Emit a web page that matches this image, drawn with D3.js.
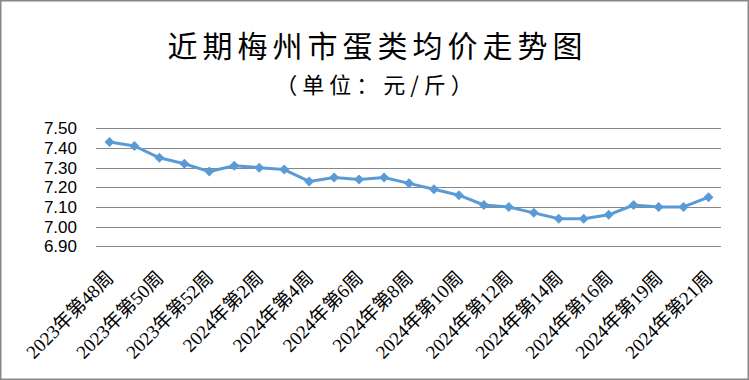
<!DOCTYPE html>
<html>
<head>
<meta charset="utf-8">
<script src="https://cdn.jsdelivr.net/npm/d3@7"></script>
<style>
  body { margin: 0; background: #fff; }
</style>
</head>
<body>
<script>
let svgWidth = 749;
let svgHeight = 380;

// weeks shown on the chart (week 18 of 2024 has no data)
let weeks = [
    "2023年第48周", "2023年第49周", "2023年第50周", "2023年第51周", "2023年第52周",
    "2024年第1周", "2024年第2周", "2024年第3周", "2024年第4周", "2024年第5周",
    "2024年第6周", "2024年第7周", "2024年第8周", "2024年第9周", "2024年第10周",
    "2024年第11周", "2024年第12周", "2024年第13周", "2024年第14周", "2024年第15周",
    "2024年第16周", "2024年第17周", "2024年第19周", "2024年第20周", "2024年第21周"
];
let prices = [
    7.43, 7.41, 7.35, 7.32, 7.28,
    7.31, 7.30, 7.29, 7.23, 7.25,
    7.24, 7.25, 7.22, 7.19, 7.16,
    7.11, 7.10, 7.07, 7.04, 7.04,
    7.06, 7.11, 7.10, 7.10, 7.15
];
let yTicks = [6.90, 7.00, 7.10, 7.20, 7.30, 7.40, 7.50];

let title = "近期梅州市蛋类均价走势图";
let subtitle = "（单位：元/斤）";

let svg = d3.select("body")
    .append("svg")
    .attr("width", svgWidth)
    .attr("height", svgHeight);

svg.append("rect")
    .attr("x", 0.75).attr("y", 0.75)
    .attr("width", svgWidth - 1.5).attr("height", svgHeight - 1.5)
    .attr("fill", "#fff")
    .attr("stroke", "#888")
    .attr("stroke-width", 1.5);

let plot = { left: 97, right: 721, top: 128.3, bottom: 246.3 };

let xScale = d3.scalePoint()
    .domain(weeks)
    .range([plot.left, plot.right])
    .padding(0.5);

let yScale = d3.scaleLinear()
    .domain([6.9, 7.5])
    .range([plot.bottom, plot.top]);

// titles
svg.append("text")
    .attr("x", svgWidth / 2 + 3)
    .attr("y", 57)
    .attr("text-anchor", "middle")
    .style("font-family", "'Noto Sans CJK SC'")
    .style("font-size", "30px")
    .style("letter-spacing", "5px")
    .attr("fill", "#000")
    .text(title);

svg.append("text")
    .attr("x", svgWidth / 2 + 2)
    .attr("y", 93)
    .attr("text-anchor", "middle")
    .style("font-family", "'Noto Sans CJK SC'")
    .style("font-size", "22px")
    .style("letter-spacing", "5px")
    .attr("fill", "#000")
    .text(subtitle);

// gridlines
svg.append("g")
    .selectAll("line")
    .data(yTicks)
    .join("line")
    .attr("x1", plot.left - 1)
    .attr("x2", plot.right)
    .attr("y1", d => Math.round(yScale(d)) + 0.5)
    .attr("y2", d => Math.round(yScale(d)) + 0.5)
    .attr("stroke", "#878787")
    .attr("stroke-width", 1);

// Y Axis
let leftAxis = d3.axisLeft(yScale)
    .tickValues(yTicks)
    .tickFormat(d3.format(".2f"))
    .tickSize(0)
    .tickPadding(0);

let yAxis = svg.append("g")
    .attr("transform", "translate(77, 0)")
    .call(leftAxis);
yAxis.select(".domain").remove();
yAxis.selectAll("text")
    .style("font-family", "'Liberation Sans', Arial, sans-serif")
    .style("font-size", "17px")
    .attr("fill", "#000");

// X Axis
let bottomAxis = d3.axisBottom(xScale)
    .tickValues(weeks.filter((d, i) => i % 2 === 0))
    .tickSize(0);

let xAxis = svg.append("g")
    .attr("transform", `translate(0, ${plot.bottom})`)
    .call(bottomAxis);
xAxis.select(".domain").remove();
xAxis.selectAll("text")
    .attr("x", 0)
    .attr("y", 0)
    .attr("dy", "0.35em")
    .attr("transform", "translate(0, 28) rotate(-45)")
    .attr("text-anchor", "end")
    .style("font-family", "'Liberation Serif', 'Noto Sans CJK SC', serif")
    .style("font-size", "19px")
    .attr("fill", "#000");

// price line
let drawLine = d3.line()
    .x((d, i) => xScale(weeks[i]))
    .y(d => yScale(d));

svg.append("path")
    .datum(prices)
    .attr("d", drawLine)
    .attr("fill", "none")
    .attr("stroke", "#5B9BD5")
    .attr("stroke-width", 3)
    .attr("stroke-linejoin", "round");

svg.append("g")
    .selectAll("path")
    .data(prices)
    .join("path")
    .attr("d", d3.symbol(d3.symbolSquare, 50))
    .attr("transform", (d, i) => `translate(${xScale(weeks[i])}, ${yScale(d)}) rotate(45)`)
    .attr("fill", "#5B9BD5");
</script>
</body>
</html>
